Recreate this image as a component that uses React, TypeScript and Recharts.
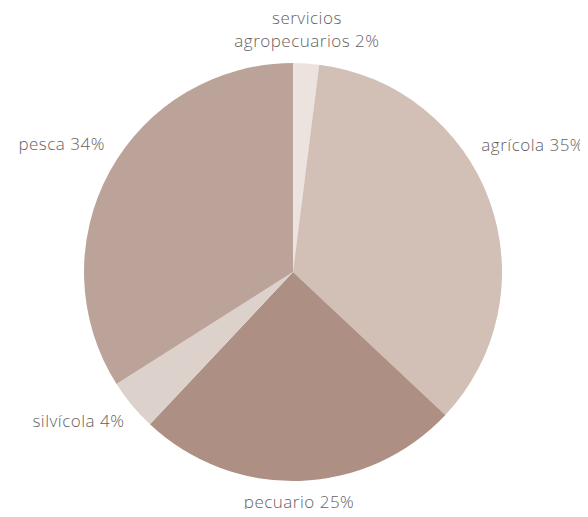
import React from "react";
import { PieChart, Pie, Cell } from "recharts";

const categories = ["servicios agropecuarios", "agrícola", "pecuario", "silvícola", "pesca"];
const shares = [2, 35, 25, 4, 34];
const colors = ["#ece3df", "#d2bfb6", "#ad8f84", "#ddd1cc", "#bca399"];

// label placement: radius from centre, and a small angle nudge (deg)
const labelRadius = [242, 271, 231, 262, 264];
const labelShift = [0.3, 8, -0.3, -4.6, 0];

const data = categories.map((name, i) => ({ name, value: shares[i] }));

const RAD = Math.PI / 180;

function renderLabel(props: any) {
  const { cx, cy, midAngle, index } = props;
  const a = (midAngle + labelShift[index]) * RAD;
  const x = cx + labelRadius[index] * Math.cos(a);
  const y = cy - labelRadius[index] * Math.sin(a);
  const text = `${categories[index]} ${shares[index]}%`;
  const common = {
    fill: "#66615f",
    fontSize: 17,
    fontFamily: "'Open Sans', sans-serif",
    fontWeight: 300,
    letterSpacing: 0.5,
    textAnchor: "middle" as const,
  };
  if (index === 0) {
    const [first, ...rest] = text.split(" ");
    return (
      <text {...common} x={x}>
        <tspan x={x} y={y - 6.5}>{first}</tspan>
        <tspan x={x} y={y + 16.5}>{rest.join(" ")}</tspan>
      </text>
    );
  }
  return (
    <text {...common} x={x} y={y + 5}>
      {text}
    </text>
  );
}

export default function App() {
  return (
    <div style={{ margin: -8, width: 588, height: 517, background: "#fff" }}>
      <PieChart width={588} height={517} margin={{ top: 0, right: 0, bottom: 0, left: 0 }}>
        <Pie
          data={data}
          dataKey="value"
          nameKey="name"
          cx={293}
          cy={272}
          outerRadius={209}
          startAngle={90}
          endAngle={-270}
          stroke="none"
          label={renderLabel}
          labelLine={false}
          isAnimationActive={false}
        >
          {data.map((d, i) => (
            <Cell key={d.name} fill={colors[i]} />
          ))}
        </Pie>
      </PieChart>
    </div>
  );
}
